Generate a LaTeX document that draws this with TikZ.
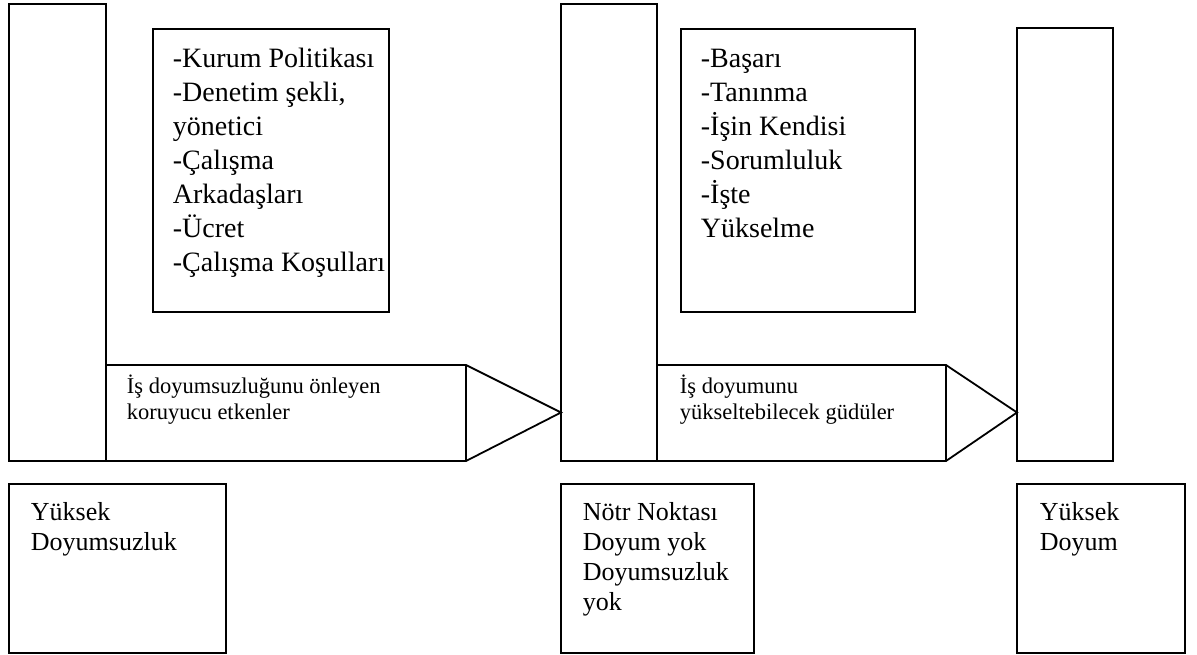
\documentclass[tikz,border=0pt]{standalone}
\usepackage{fontspec}
\setmainfont{Liberation Serif}
\begin{document}
\begin{tikzpicture}[x=1pt,y=-1pt,line width=1.8pt,line join=miter,
  shape box/.style={draw,line width=1.8pt,inner sep=0pt,outer sep=0pt,anchor=north west},
  bigtext/.style={anchor=north west,inner sep=0pt,align=left,font=\fontsize{28}{34}\selectfont},
  midtext/.style={anchor=north west,inner sep=0pt,align=left,font=\fontsize{26}{30}\selectfont},
  smalltext/.style={anchor=north west,inner sep=0pt,align=left,font=\fontsize{22.5}{26}\selectfont},
  arrowshape/.style={draw,line width=1.8pt,line join=miter}]
\useasboundingbox (0,0) rectangle (1197,655);

% vertical bars
\node[shape box,minimum width=97pt,minimum height=457pt] (barL) at (9,4) {};
\node[shape box,minimum width=96pt,minimum height=457pt] (barM) at (561,4) {};
\node[shape box,minimum width=96pt,minimum height=433pt] (barR) at (1017,28) {};

% top text boxes
\node[shape box,minimum width=236pt,minimum height=283pt] (topA) at (153,29) {};
\node[shape box,minimum width=234pt,minimum height=283pt] (topB) at (681,29) {};
\node[bigtext] (topAtext) at (172,43.2) {\strut-Kurum Politikası\\-Denetim şekli,\\yönetici\\-Çalışma\\Arkadaşları\\-Ücret\\-Çalışma Koşulları};
\node[bigtext] (topBtext) at (700,43.2) {\strut-Başarı\\-Tanınma\\-İşin Kendisi\\-Sorumluluk\\-İşte\\Yükselme};

% arrows
\coordinate (aTop) at (466,365);
\coordinate (aBot) at (466,461);
\coordinate (aTip) at (561,412.5);
\draw[arrowshape] (barL.east |- aTop) -- (aTop) -- (aTip) -- (aBot) -- (barL.east |- aBot);
\draw[arrowshape] (aTop) -- (aBot);
\node[smalltext] (arrAtext) at (126,374.5) {\strut İş doyumsuzluğunu önleyen\\koruyucu etkenler};

\coordinate (bTop) at (946,365);
\coordinate (bBot) at (946,461);
\coordinate (bTip) at (1017,412.5);
\draw[arrowshape] (barM.east |- bTop) -- (bTop) -- (bTip) -- (bBot) -- (barM.east |- bBot);
\draw[arrowshape] (bTop) -- (bBot);
\node[smalltext] (arrBtext) at (679,374.5) {\strut İş doyumunu\\yükseltebilecek güdüler};

% bottom boxes
\node[shape box,minimum width=217pt,minimum height=169pt] (botA) at (9,484) {};
\node[shape box,minimum width=193pt,minimum height=169pt] (botB) at (561,484) {};
\node[shape box,minimum width=168pt,minimum height=169pt] (botC) at (1017,484) {};
\node[midtext] (botAtext) at (30,499) {\strut Yüksek\\Doyumsuzluk};
\node[midtext] (botBtext) at (582,499) {\strut Nötr Noktası\\Doyum yok\\Doyumsuzluk\\yok};
\node[midtext] (botCtext) at (1039,499) {\strut Yüksek\\Doyum};
\end{tikzpicture}
\end{document}
